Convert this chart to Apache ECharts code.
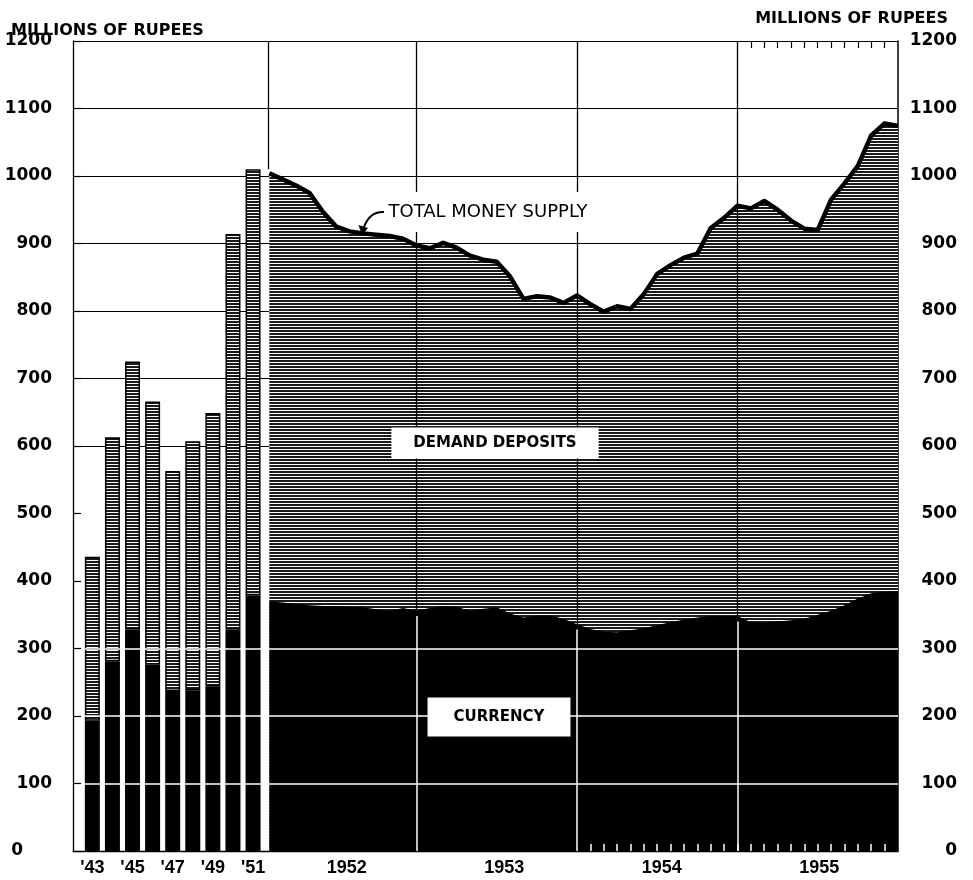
<!DOCTYPE html>
<html><head><meta charset="utf-8">
<script src="https://cdn.jsdelivr.net/npm/echarts@6/dist/echarts.min.js"></script>
<style>html,body{margin:0;padding:0;background:#fff}#c{width:973px;height:880px}</style>
</head><body><div id="c"></div>
<script>
// ---- data ----
const barYears = ['1943','1944','1945','1946','1947','1948','1949','1950','1951'];
const barTotal = [436, 613, 725, 666, 563, 607, 649, 914, 1010];
const barCurrency = [193, 281, 328, 276, 237, 238, 244, 328, 379];

// month number: 1 = Jan 1952 ... 48 = Dec 1955 (end-of-month figures)
const months = [1,2,3,4,5,6,7,8,9,10,11,12,13,14,15,16,17,18,19,20,21,22,23,24,
                25,26,27,28,29,30,31,32,33,34,35,36,37,38,39,40,41,42,43,44,45,46,47,48];
const totalSupply = [1004, 995, 986, 975, 947, 925, 918, 915, 913, 911, 907, 897,
                     893, 901, 894, 882, 876, 873, 851, 818, 822, 820, 812, 823,
                     810, 799, 807, 803, 825, 855, 868, 879, 885, 923, 938, 956,
                     952, 963, 950, 934, 922, 920, 965, 989, 1015, 1060, 1078, 1074];
const currency = [370, 368, 366, 364, 363, 363, 362, 361, 358, 356, 360, 356,
                  360, 363, 362, 356, 359, 361, 352, 346, 349, 349, 344, 336,
                  329, 325, 324, 327, 330, 335, 339, 343, 346, 348, 348, 348,
                  339, 338, 340, 342, 344, 350, 356, 364, 374, 382, 384, 385];
const yearLabels = ['1952','1953','1954','1955'];
const yearEnds = [12, 24, 36];
const whiteGridValues = [100, 200, 300];
const axisTitle = 'MILLIONS OF RUPEES';

// ---- hatch pattern ----
const pc = document.createElement('canvas');
pc.width = 3; pc.height = 3;
const pctx = pc.getContext('2d');
pctx.fillStyle = '#fff'; pctx.fillRect(0,0,3,3);
pctx.fillStyle = '#1a1a1a'; pctx.fillRect(0,0,3,2);
const hatch = {image: pc, repeat: 'repeat'};

const numFont = {fontFamily: 'DejaVu Sans', fontWeight: 'bold', fontSize: 17, color: '#000'};
const xFont = {fontFamily: 'Liberation Sans', fontWeight: 'bold', fontSize: 18, color: '#000'};

const chart = echarts.init(document.getElementById('c'), null, {renderer: 'canvas'});
const option = {
  backgroundColor: '#fff',
  animation: false,
  title: [
    {text: axisTitle, left: 6, top: 18, textStyle: {fontFamily: 'DejaVu Sans', fontWeight: 'bold', fontSize: 16, color: '#000'}},
    {text: axisTitle, right: 20, top: 6, textStyle: {fontFamily: 'DejaVu Sans', fontWeight: 'bold', fontSize: 16, color: '#000'}}
  ],
  grid: [
    {left: 82.3, top: 41, width: 180.8, height: 810},
    {left: 268, top: 41, width: 630, height: 810},
    {left: 73, top: 41, width: 825, height: 810},
    {left: 73, top: 41, width: 825, height: 405}
  ],
  xAxis: [
    {type: 'category', gridIndex: 0, data: barYears,
     axisLine: {show: false}, axisTick: {show: false}, splitLine: {show: false},
     axisLabel: Object.assign({interval: 1, margin: 8, formatter: v => "'" + v.slice(2)}, xFont)},
    {type: 'value', gridIndex: 1, min: 0.9, max: 48, z: 10,
     axisLine: {show: false}, axisLabel: {show: false}, splitLine: {show: false},
     axisTick: {show: true, inside: true, length: 7, customValues: months.slice(24, 47),
                lineStyle: {color: '#fff', width: 1.5}}},
    {type: 'category', gridIndex: 1, data: yearLabels, position: 'bottom',
     axisLine: {show: false}, axisTick: {show: false}, splitLine: {show: false},
     axisLabel: Object.assign({margin: 8}, xFont)},
    {type: 'value', gridIndex: 1, min: 0.9, max: 48, position: 'top', z: 10,
     axisLine: {show: false}, axisLabel: {show: false}, splitLine: {show: false},
     axisTick: {show: true, inside: true, length: 7, customValues: months.slice(36, 47),
                lineStyle: {color: '#000', width: 1.2}}},
    {type: 'value', gridIndex: 2, min: 0, max: 1, position: 'bottom',
     axisLine: {show: true, onZero: false, lineStyle: {color: '#000', width: 1.3}},
     axisTick: {show: false}, axisLabel: {show: false}, splitLine: {show: false}},
    {type: 'value', gridIndex: 3, min: 0, max: 1, show: false}
  ],
  yAxis: [
    {type: 'value', gridIndex: 0, min: 0, max: 1200, interval: 100, show: false},
    {type: 'value', gridIndex: 1, min: 0, max: 1200, interval: 100, show: false},
    {type: 'value', gridIndex: 2, min: 0, max: 1200, interval: 100, position: 'left',
     axisLine: {show: true, lineStyle: {color: '#000', width: 1.3}},
     axisTick: {show: true, inside: true, length: 8, lineStyle: {color: '#000', width: 1.2}},
     axisLabel: Object.assign({margin: 21,
       formatter: v => v === 0 ? '{z|0}' : String(v),
       rich: {z: {padding: [0, 29, 0, 0], fontFamily: 'DejaVu Sans', fontWeight: 'bold', fontSize: 17, color: '#000'}}
     }, numFont),
     splitLine: {show: false}},
    {type: 'value', gridIndex: 2, min: 0, max: 1200, interval: 100, position: 'right',
     axisLine: {show: true, lineStyle: {color: '#000', width: 1.5}},
     axisTick: {show: false}, splitLine: {show: false},
     axisLabel: Object.assign({margin: 59, align: 'right', formatter: v => String(v)}, numFont)},
    // upper half grid lines (600..1200) only
    {type: 'value', gridIndex: 3, min: 600, max: 1200, interval: 100,
     axisLine: {show: false}, axisTick: {show: false}, axisLabel: {show: false},
     splitLine: {show: true, lineStyle: {color: '#000', width: 1.2}}}
  ],
  series: [
    {name: 'currency-bars', type: 'bar', xAxisIndex: 0, yAxisIndex: 0, stack: 'b',
     data: barCurrency, barWidth: 15, itemStyle: {color: '#000'},
     markLine: {silent: true, symbol: 'none', label: {show: false},
       lineStyle: {color: '#fff', width: 1.5, type: 'solid'},
       data: whiteGridValues.map(v => ({yAxis: v}))}},
    {name: 'deposit-bars', type: 'bar', xAxisIndex: 0, yAxisIndex: 0, stack: 'b',
     data: barTotal.map((t, i) => t - barCurrency[i]), barWidth: 15,
     itemStyle: {color: hatch, borderColor: '#000', borderWidth: 1.5}},
    {name: 'total', type: 'line', xAxisIndex: 1, yAxisIndex: 1,
     data: months.map((m, i) => [m, totalSupply[i]]),
     showSymbol: false, symbol: 'none',
     lineStyle: {color: '#000', width: 4.5, join: 'round'},
     areaStyle: {color: hatch, opacity: 1, origin: 'start'},
     markLine: {silent: true, symbol: 'none', label: {show: false},
       lineStyle: {color: '#000', width: 1.3, type: 'solid'},
       data: yearEnds.map(m => [{coord: [m, 1200]}, {coord: [m, currency[m - 1]]}])
         .concat([[{coord: [0.9, 1200]}, {coord: [0.9, barTotal[barTotal.length - 1]]}]])}},
    {name: 'currency', type: 'line', xAxisIndex: 1, yAxisIndex: 1,
     data: months.map((m, i) => [m, currency[i]]),
     showSymbol: false, symbol: 'none',
     lineStyle: {width: 0},
     areaStyle: {color: '#000', opacity: 1, origin: 'start'},
     markLine: {silent: true, symbol: 'none', label: {show: false},
       lineStyle: {color: '#fff', width: 1.5, type: 'solid'},
       data: whiteGridValues.map(v => ({yAxis: v}))
         .concat(yearEnds.map(m => [{coord: [m, 0]}, {coord: [m, currency[m - 1] - 8]}]))}}
  ],
  graphic: [
    {type: 'text', x: 495, y: 443, z: 100,
     style: {text: 'DEMAND DEPOSITS', align: 'center', verticalAlign: 'middle',
             font: 'bold 15px "DejaVu Sans"', fill: '#000', backgroundColor: '#fff', padding: [8, 22]}},
    {type: 'text', x: 499, y: 717, z: 100,
     style: {text: 'CURRENCY', align: 'center', verticalAlign: 'middle',
             font: 'bold 15px "DejaVu Sans"', fill: '#000', backgroundColor: '#fff', padding: [12, 26]}},
    {type: 'text', x: 488, y: 212, z: 100,
     style: {text: 'TOTAL MONEY SUPPLY', align: 'center', verticalAlign: 'middle',
             font: '18px "DejaVu Sans"', fill: '#000', backgroundColor: '#fff', padding: [11, 8]}},
    {type: 'bezierCurve', z: 100,
     shape: {x1: 384, y1: 212, cpx1: 370, cpy1: 211, x2: 364, y2: 227},
     style: {stroke: '#000', lineWidth: 2, fill: null}},
    {type: 'polygon', z: 100,
     shape: {points: [[362, 235], [358.5, 225], [368, 228]]},
     style: {fill: '#000'}}
  ]
};
chart.setOption(option);
</script>
</body></html>
